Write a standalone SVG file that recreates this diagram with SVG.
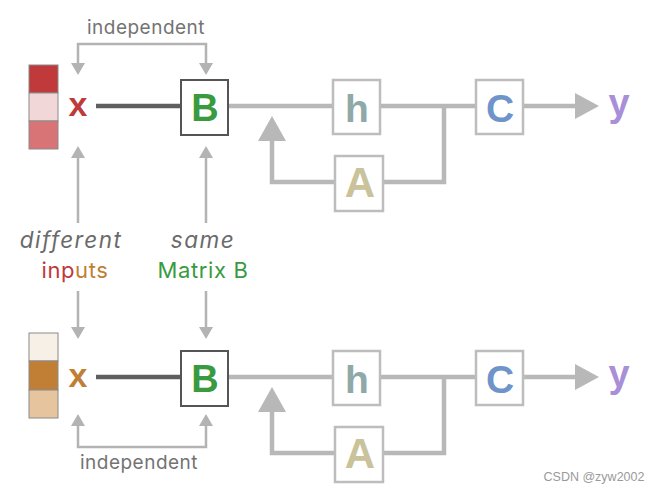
<svg xmlns="http://www.w3.org/2000/svg" width="659" height="494" viewBox="0 0 659 494">
<style>
  .lbl { font-family: Inter, "Open Sans", "Liberation Sans", sans-serif; }
  .ind { font-size: 19px; letter-spacing: 0.5px; fill: #737373; text-anchor: middle; }
  .it { font-size: 22.5px; font-style: italic; letter-spacing: 1.5px; fill: #6a6a6a; text-anchor: middle; }
  .up { font-size: 22px; letter-spacing: 0.6px; text-anchor: middle; }
  .sym { font-family: "Liberation Sans", Arial, sans-serif; font-weight: bold; text-anchor: middle; }
  .box { fill: #ffffff; stroke: #bdbdbd; stroke-width: 2.5; }
  .bbox { fill: #ffffff; stroke: #555555; stroke-width: 2; }
  .thin { fill: none; stroke: #b3b3b3; stroke-width: 2.5; }
  .flow { fill: none; stroke: #b8b8b8; stroke-width: 4.5; }
  .dark { fill: none; stroke: #5f5f5f; stroke-width: 4.5; }
  .ah { fill: #b3b3b3; }
</style>
<rect width="659" height="494" fill="#ffffff"/>

<g id="connectors">
  <polyline class="thin" points="78,64 78,44 206,44 206,64"/>
  <polygon class="ah" points="71,63 85,63 78,75"/>
  <polygon class="ah" points="199,63 213,63 206,75"/>
  <line class="thin" x1="78" y1="157" x2="78" y2="223"/>
  <polygon class="ah" points="71,158 85,158 78,146"/>
  <line class="thin" x1="206" y1="157" x2="206" y2="223"/>
  <polygon class="ah" points="199,158 213,158 206,146"/>
  <line class="thin" x1="78" y1="291" x2="78" y2="328"/>
  <polygon class="ah" points="71,327 85,327 78,339"/>
  <line class="thin" x1="206" y1="291" x2="206" y2="328"/>
  <polygon class="ah" points="199,327 213,327 206,339"/>
  <polyline class="thin" points="78,425 78,447 206,447 206,425"/>
  <polygon class="ah" points="71,426 85,426 78,414"/>
  <polygon class="ah" points="199,426 213,426 206,414"/>

  <line class="dark" x1="96" y1="106" x2="181" y2="106"/>
  <line class="flow" x1="228" y1="106" x2="476" y2="106"/>
  <polyline class="flow" points="444,106 444,182 383,182"/>
  <polyline class="flow" points="335,182 272,182 272,138"/>
  <polygon fill="#b8b8b8" points="258,141 286,141 272,116"/>
  <line class="flow" x1="523" y1="106" x2="578" y2="106"/>
  <polygon fill="#b8b8b8" points="575,93 575,119 599,106"/>

  <line class="dark" x1="96" y1="377" x2="181" y2="377"/>
  <line class="flow" x1="228" y1="377" x2="476" y2="377"/>
  <polyline class="flow" points="444,377 444,453 383,453"/>
  <polyline class="flow" points="335,453 272,453 272,409"/>
  <polygon fill="#b8b8b8" points="258,412 286,412 272,387"/>
  <line class="flow" x1="523" y1="377" x2="578" y2="377"/>
  <polygon fill="#b8b8b8" points="575,364 575,390 599,377"/>
</g>

<text class="lbl ind" x="146" y="34">independent</text>
<text class="lbl ind" x="139" y="469">independent</text>

<g id="label-different">
  <text class="lbl it" x="71" y="248">different</text>
  <text class="lbl up" x="75" y="278"><tspan fill="#c0393b">inp</tspan><tspan fill="#c07f35">uts</tspan></text>
</g>
<g id="label-same">
  <text class="lbl it" x="203" y="248">same</text>
  <text class="lbl up" x="203" y="278" fill="#3a9a3f">Matrix B</text>
</g>

<g id="x-vector-top">
  <rect x="29" y="65" width="29" height="28" fill="#c0393b" stroke="#8a8a8a" stroke-width="1"/>
  <rect x="29" y="93" width="29" height="28" fill="#f2d7d8" stroke="#8a8a8a" stroke-width="1"/>
  <rect x="29" y="121" width="29" height="28" fill="#d87476" stroke="#8a8a8a" stroke-width="1"/>
</g>
<g id="x-top"><text class="sym" x="78" y="116" font-size="34" fill="#c0393b">x</text></g>
<g id="B-top">
  <rect class="bbox" x="181" y="80" width="47" height="55"/>
  <text class="sym" x="205" y="121" font-size="38" fill="#3a9a3f">B</text>
</g>
<g id="h-top">
  <rect class="box" x="333" y="80" width="47" height="54"/>
  <text class="sym" x="357" y="122" font-size="39" fill="#8fa9a8">h</text>
</g>
<g id="A-top">
  <rect class="box" x="335" y="156" width="48" height="55"/>
  <text class="sym" x="360" y="197" font-size="42" fill="#c9c29a">A</text>
</g>
<g id="C-top">
  <rect class="box" x="476" y="80" width="47" height="54"/>
  <text class="sym" x="500" y="122" font-size="39" fill="#6e94c9">C</text>
</g>
<g id="y-top"><text class="sym" x="619" y="116" font-size="38" fill="#a98fd8">y</text></g>

<g id="x-vector-bottom">
  <rect x="29" y="333" width="29" height="28" fill="#f6f0e6" stroke="#8a8a8a" stroke-width="1"/>
  <rect x="29" y="361" width="29" height="29" fill="#c07f35" stroke="#8a8a8a" stroke-width="1"/>
  <rect x="29" y="390" width="29" height="28" fill="#e6c49e" stroke="#8a8a8a" stroke-width="1"/>
</g>
<g id="x-bottom"><text class="sym" x="78" y="387" font-size="34" fill="#c07f35">x</text></g>
<g id="B-bottom">
  <rect class="bbox" x="181" y="351" width="47" height="55"/>
  <text class="sym" x="205" y="392" font-size="38" fill="#3a9a3f">B</text>
</g>
<g id="h-bottom">
  <rect class="box" x="333" y="351" width="47" height="54"/>
  <text class="sym" x="357" y="393" font-size="39" fill="#8fa9a8">h</text>
</g>
<g id="A-bottom">
  <rect class="box" x="335" y="427" width="48" height="55"/>
  <text class="sym" x="360" y="468" font-size="42" fill="#c9c29a">A</text>
</g>
<g id="C-bottom">
  <rect class="box" x="476" y="351" width="47" height="54"/>
  <text class="sym" x="500" y="393" font-size="39" fill="#6e94c9">C</text>
</g>
<g id="y-bottom"><text class="sym" x="619" y="387" font-size="38" fill="#a98fd8">y</text></g>

<text x="594" y="481" font-family="'Liberation Sans', Arial, sans-serif" font-size="12.5" fill="#9a9a9a" text-anchor="middle">CSDN @zyw2002</text>
</svg>
